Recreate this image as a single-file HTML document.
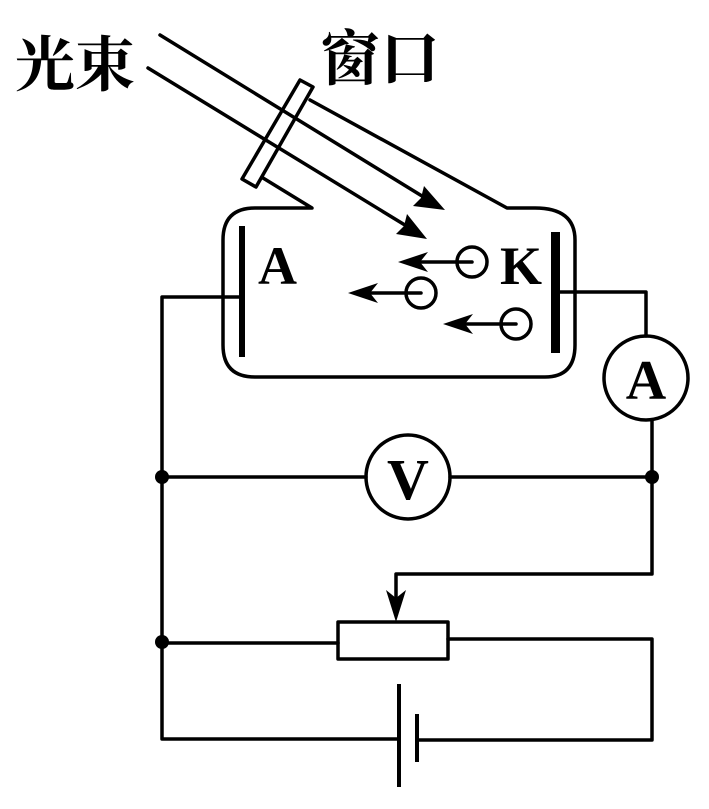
<!DOCTYPE html>
<html><head><meta charset="utf-8"><style>
html,body{margin:0;padding:0;background:#fff;}
svg{display:block;}
text{font-family:"Liberation Serif","Noto Serif CJK SC",serif;font-weight:bold;}
</style></head><body>
<svg width="709" height="809" viewBox="0 0 709 809" xmlns="http://www.w3.org/2000/svg">
<g fill="none" stroke="#000" stroke-width="3.5" stroke-linejoin="round" stroke-linecap="round">
<polygon points="300,80 313,87 256,187 242,179"/>
<path d="M310,100 L507,208 L535,208 Q575,208 575,240 L575,345 Q575,377 545,377 L255,377 Q223,377 223,345 L223,240 Q223,208 255,208 L312,208 L263,178"/>
<line x1="160" y1="35" x2="435" y2="204"/>
<line x1="148" y1="68" x2="418" y2="233"/>
<circle cx="472" cy="262" r="15"/>
<circle cx="421" cy="293" r="15"/>
<circle cx="516" cy="324" r="15"/>
<line x1="472" y1="262" x2="410" y2="262"/>
<line x1="421" y1="293" x2="360" y2="293"/>
<line x1="516" y1="324" x2="455" y2="324"/>
<polyline points="242,297 162,297 162,739 399,739"/>
<polyline points="555,292 646,292 646,336"/>
<polyline points="652,420 652,574 396,574 396,600"/>
<line x1="162" y1="477" x2="366" y2="477"/>
<line x1="450" y1="477" x2="652" y2="477"/>
<line x1="162" y1="643" x2="338" y2="643"/>
<polyline points="448,639 652,639 652,740 417,740"/>
<rect x="338" y="622" width="110" height="37"/>
<circle cx="646" cy="378" r="42"/>
<circle cx="408" cy="477" r="42"/>
</g>
<g fill="#000" stroke="none">
<polygon points="445,210 413,206 421,198 424,186"/>
<polygon points="427,239 396,234 404,226 407,214"/>
<polygon points="398,262 428,252 420,262 428,272"/>
<polygon points="348,293 378,283 370,293 378,303"/>
<polygon points="443,324 473,314 465,324 473,334"/>
<polygon points="396,622 386,590 396,598 406,590"/>
<rect x="239" y="226" width="6" height="131"/>
<rect x="551" y="232" width="9" height="121"/>
<rect x="397" y="684" width="4" height="103"/>
<rect x="415" y="714" width="4" height="48"/>
<circle cx="162" cy="477" r="7"/>
<circle cx="652" cy="477" r="7"/>
<circle cx="162" cy="642" r="7"/>
<text x="15" y="86" font-size="60">光束</text>
<text x="320" y="80" font-size="60">窗口</text>
<text x="258" y="284" font-size="54">A</text>
<text x="500" y="284" font-size="54">K</text>
<text x="646" y="399" font-size="56" text-anchor="middle">A</text>
<text x="408" y="499" font-size="58" text-anchor="middle">V</text>
</g>
</svg>
</body></html>
